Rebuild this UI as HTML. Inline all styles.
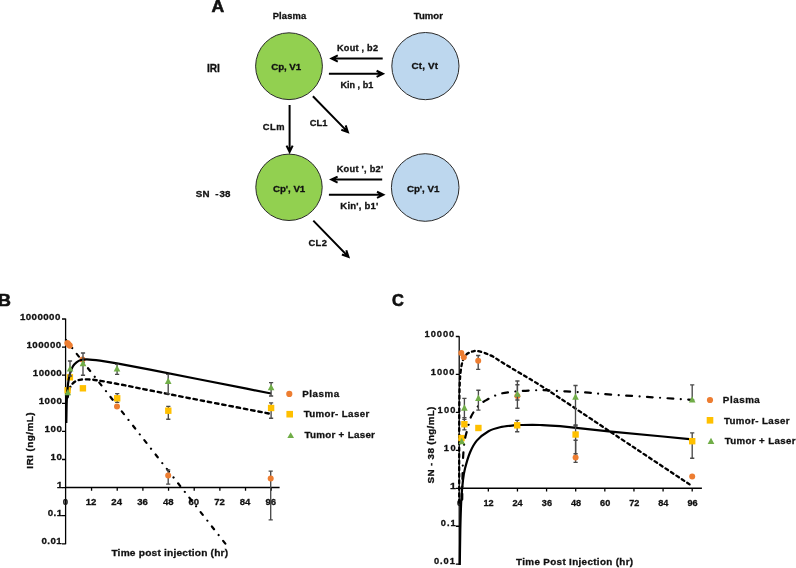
<!DOCTYPE html>
<html><head><meta charset="utf-8"><style>
html,body{margin:0;padding:0;background:#fff;width:796px;height:568px;overflow:hidden}
svg{position:absolute;left:0;top:0;display:block;will-change:transform;filter:blur(0.3px)}
text{font-family:"Liberation Sans",sans-serif;font-weight:bold;fill:#111;white-space:pre;stroke:#111;stroke-width:0.3px}
</style></head><body>
<svg width="796" height="568" viewBox="0 0 796 568">
<circle cx="289.0" cy="66.2" r="33.4" fill="#92D050" stroke="#2a2a2a" stroke-width="1.0"/>
<circle cx="425.4" cy="66.1" r="33.6" fill="#BDD7EE" stroke="#2a2a2a" stroke-width="1.0"/>
<circle cx="289.0" cy="187.3" r="33.2" fill="#92D050" stroke="#2a2a2a" stroke-width="1.0"/>
<circle cx="425.2" cy="187.5" r="33.8" fill="#BDD7EE" stroke="#2a2a2a" stroke-width="1.0"/>
<text transform="translate(211.56,11.70) scale(1.0167,1)" font-size="17.297" letter-spacing="0.000" style="stroke-width:0.6px">A</text>
<text transform="translate(272.67,18.80) scale(1.0235,1)" font-size="9.157" letter-spacing="0.145">Plasma</text>
<text transform="translate(413.70,18.80) scale(1.0099,1)" font-size="9.448" letter-spacing="0.070">Tumor</text>
<text transform="translate(271.30,69.80) scale(0.9854,1)" font-size="9.884" letter-spacing="-0.089">Cp, V1</text>
<text transform="translate(411.40,69.20) scale(1.0421,1)" font-size="9.448" letter-spacing="0.195">Ct, Vt</text>
<text transform="translate(273.00,191.50) scale(0.9874,1)" font-size="9.884" letter-spacing="-0.069">Cp', V1</text>
<text transform="translate(406.90,192.30) scale(0.9905,1)" font-size="9.884" letter-spacing="-0.052">Cp', V1</text>
<text transform="translate(207.12,71.60) scale(0.9719,1)" font-size="10.465" letter-spacing="-0.173">IRI</text>
<text transform="translate(195.82,197.30) scale(1.0191,1)" font-size="9.593" letter-spacing="0.088">SN  - 38</text>
<text transform="translate(336.99,50.60) scale(1.0513,1)" font-size="8.721" letter-spacing="0.222">Kout , b2</text>
<text transform="translate(340.39,87.70) scale(1.0066,1)" font-size="9.012" letter-spacing="0.029">Kin , b1</text>
<text transform="translate(336.68,171.80) scale(1.0617,1)" font-size="8.721" letter-spacing="0.235">Kout ', b2'</text>
<text transform="translate(340.36,209.20) scale(1.0446,1)" font-size="9.157" letter-spacing="0.180">Kin', b1'</text>
<text transform="translate(262.72,130.10) scale(1.0536,1)" font-size="8.866" letter-spacing="0.478">CLm</text>
<text transform="translate(309.72,126.30) scale(1.0160,1)" font-size="9.157" letter-spacing="0.131">CL1</text>
<text transform="translate(308.52,245.70) scale(1.0401,1)" font-size="9.012" letter-spacing="0.314">CL2</text>
<path d="M382.70,58.50L332.10,58.50M337.79,61.57L331.50,58.50L337.79,55.43" fill="none" stroke="#000" stroke-width="2.0" stroke-linejoin="miter" stroke-miterlimit="6"/>
<path d="M328.90,73.80L382.30,73.80M376.61,70.73L382.90,73.80L376.61,76.87" fill="none" stroke="#000" stroke-width="2.0" stroke-linejoin="miter" stroke-miterlimit="6"/>
<path d="M382.20,179.60L331.90,179.60M337.59,182.67L331.30,179.60L337.59,176.53" fill="none" stroke="#000" stroke-width="2.0" stroke-linejoin="miter" stroke-miterlimit="6"/>
<path d="M328.90,194.80L382.70,194.80M377.01,191.73L383.30,194.80L377.01,197.87" fill="none" stroke="#000" stroke-width="2.0" stroke-linejoin="miter" stroke-miterlimit="6"/>
<path d="M289.60,105.00L289.60,151.30M292.67,145.61L289.60,151.90L286.53,145.61" fill="none" stroke="#000" stroke-width="2.0" stroke-linejoin="miter" stroke-miterlimit="6"/>
<path d="M312.90,96.30L347.47,131.64M345.69,125.43L347.89,132.07L341.30,129.72" fill="none" stroke="#000" stroke-width="2.0" stroke-linejoin="miter" stroke-miterlimit="6"/>
<path d="M313.30,220.60L348.08,256.44M346.32,250.21L348.49,256.87L341.91,254.49" fill="none" stroke="#000" stroke-width="2.0" stroke-linejoin="miter" stroke-miterlimit="6"/>
<path d="M65.6,318.6V544.2" stroke="#000" stroke-width="1.3" fill="none"/><path d="M65.6,487.6H279.6" stroke="#000" stroke-width="1.5" fill="none"/>
<path d="M62.0,319.00H65.6M62.0,347.10H65.6M62.0,375.20H65.6M62.0,403.30H65.6M62.0,431.40H65.6M62.0,459.50H65.6M62.0,487.60H65.6M62.0,515.70H65.6M62.0,543.80H65.6M91.56,487.6V490.8M117.22,487.6V490.8M142.89,487.6V490.8M168.55,487.6V490.8M194.21,487.6V490.8M219.87,487.6V490.8M245.53,487.6V490.8M271.20,487.6V490.8" stroke="#000" stroke-width="1.3" fill="none"/>
<text transform="translate(19.89,319.50) scale(1.0000,1)" font-size="9.714" letter-spacing="0.449">1000000</text>
<text transform="translate(26.48,347.60) scale(1.0000,1)" font-size="9.714" letter-spacing="0.459">100000</text>
<text transform="translate(32.78,375.70) scale(1.0000,1)" font-size="9.714" letter-spacing="0.476">10000</text>
<text transform="translate(38.69,403.80) scale(1.0000,1)" font-size="9.714" letter-spacing="0.502">1000</text>
<text transform="translate(44.48,431.90) scale(1.0000,1)" font-size="9.714" letter-spacing="0.556">100</text>
<text transform="translate(50.38,460.00) scale(1.0000,1)" font-size="9.714" letter-spacing="0.716">10</text>
<text transform="translate(56.70,488.10) scale(1.0732,1)" font-size="9.714" letter-spacing="0.000">1</text>
<text transform="translate(47.73,516.20) scale(1.0000,1)" font-size="9.714" letter-spacing="0.470">0.1</text>
<text transform="translate(41.43,544.30) scale(1.0000,1)" font-size="9.714" letter-spacing="0.445">0.01</text>
<text transform="translate(62.84,505.40) scale(1.0000,1)" font-size="9.571" letter-spacing="0.000">0</text>
<text transform="translate(85.73,505.40) scale(1.0000,1)" font-size="9.571" letter-spacing="0.000">12</text>
<text transform="translate(111.36,505.40) scale(1.0000,1)" font-size="9.571" letter-spacing="0.000">24</text>
<text transform="translate(137.23,505.40) scale(1.0000,1)" font-size="9.571" letter-spacing="0.000">36</text>
<text transform="translate(162.90,505.40) scale(1.0000,1)" font-size="9.571" letter-spacing="0.000">48</text>
<text transform="translate(188.51,505.40) scale(1.0000,1)" font-size="9.571" letter-spacing="0.000">60</text>
<text transform="translate(214.14,505.40) scale(1.0000,1)" font-size="9.571" letter-spacing="0.000">72</text>
<text transform="translate(239.68,505.40) scale(1.0000,1)" font-size="9.571" letter-spacing="0.000">84</text>
<text transform="translate(265.48,505.40) scale(1.0000,1)" font-size="9.571" letter-spacing="0.000">96</text>
<text transform="translate(-1.90,305.80) scale(1.0977,1)" font-size="16.279" letter-spacing="0.000" style="stroke-width:0.6px">B</text>
<text transform="translate(111.39,556.40) scale(1.0440,1)" font-size="9.738" letter-spacing="0.196">Time post injection (hr)</text>
<text transform="translate(33.20,468.67) rotate(-90) scale(1.0884,1)" font-size="9.157" letter-spacing="0.380">IRI (ng/mL)</text>
<path d="M459.2,336.2V565.0" stroke="#000" stroke-width="1.25" fill="none"/><path d="M459.2,488.3H701.9" stroke="#000" stroke-width="1.6" fill="none"/>
<path d="M455.8,336.50H459.3M455.8,374.45H459.3M455.8,412.40H459.3M455.8,450.35H459.3M455.8,488.30H459.3M455.8,526.25H459.3M455.8,564.20H459.3M488.33,488.3V491.5M517.45,488.3V491.5M546.58,488.3V491.5M575.70,488.3V491.5M604.83,488.3V491.5M633.95,488.3V491.5M663.08,488.3V491.5M692.20,488.3V491.5" stroke="#000" stroke-width="1.3" fill="none"/>
<text transform="translate(424.52,336.70) scale(1.0000,1)" font-size="9.286" letter-spacing="0.986">10000</text>
<text transform="translate(430.71,374.65) scale(1.0000,1)" font-size="9.286" letter-spacing="1.041">1000</text>
<text transform="translate(437.59,412.60) scale(1.0000,1)" font-size="9.286" letter-spacing="1.152">100</text>
<text transform="translate(443.87,450.55) scale(1.0000,1)" font-size="9.286" letter-spacing="1.484">10</text>
<text transform="translate(449.92,488.50) scale(1.1586,1)" font-size="9.286" letter-spacing="0.000">1</text>
<text transform="translate(440.81,526.45) scale(1.0000,1)" font-size="9.286" letter-spacing="0.973">0.1</text>
<text transform="translate(434.02,564.40) scale(1.0000,1)" font-size="9.286" letter-spacing="0.922">0.01</text>
<text transform="translate(456.96,505.90) scale(1.0000,1)" font-size="9.143" letter-spacing="0.000">0</text>
<text transform="translate(483.44,505.90) scale(1.0000,1)" font-size="9.143" letter-spacing="0.000">12</text>
<text transform="translate(512.53,505.90) scale(1.0000,1)" font-size="9.143" letter-spacing="0.000">24</text>
<text transform="translate(541.85,505.90) scale(1.0000,1)" font-size="9.143" letter-spacing="0.000">36</text>
<text transform="translate(570.99,505.90) scale(1.0000,1)" font-size="9.143" letter-spacing="0.000">48</text>
<text transform="translate(600.06,505.90) scale(1.0000,1)" font-size="9.143" letter-spacing="0.000">60</text>
<text transform="translate(629.15,505.90) scale(1.0000,1)" font-size="9.143" letter-spacing="0.000">72</text>
<text transform="translate(658.17,505.90) scale(1.0000,1)" font-size="9.143" letter-spacing="0.000">84</text>
<text transform="translate(687.42,505.90) scale(1.0000,1)" font-size="9.143" letter-spacing="0.000">96</text>
<text transform="translate(392.08,305.85) scale(1.0164,1)" font-size="16.172" letter-spacing="0.000" style="stroke-width:0.6px">C</text>
<text transform="translate(516.09,565.40) scale(1.0771,1)" font-size="9.157" letter-spacing="0.314">Time Post Injection (hr)</text>
<text transform="translate(433.90,483.48) rotate(-90) scale(1.0728,1)" font-size="9.157" letter-spacing="0.322">SN - 38 (ng/mL)</text>
<path d="M225.30,543.60C172.17,475.73 119.03,407.87 65.90,340.00" fill="none" stroke="#000" stroke-width="2.2" stroke-linecap="round" stroke-dasharray="3.5 7.38 0.01 7.38"/>
<path d="M168.20,469.90V484.10M166.10,469.90H170.30M166.10,484.10H170.30" stroke="#4a4a4a" stroke-width="1.35" fill="none"/>
<path d="M270.70,471.10V519.90M268.60,471.10H272.80M268.60,519.90H272.80" stroke="#4a4a4a" stroke-width="1.35" fill="none"/>
<circle cx="67.4" cy="343.1" r="3.1" fill="#ED7D31"/>
<circle cx="68.5" cy="344.3" r="3.1" fill="#ED7D31"/>
<circle cx="69.7" cy="345.6" r="3.1" fill="#ED7D31"/>
<circle cx="82.5" cy="359.6" r="3.0" fill="#ED7D31"/>
<circle cx="117.0" cy="406.4" r="3.0" fill="#ED7D31"/>
<circle cx="168.2" cy="475.5" r="3.0" fill="#ED7D31"/>
<circle cx="270.7" cy="478.5" r="3.0" fill="#ED7D31"/>
<path d="M67.50,398.00C68.17,395.00 68.75,391.28 69.50,389.00C70.25,386.72 70.90,385.63 72.00,384.30C73.10,382.97 74.58,381.78 76.10,381.00C77.62,380.22 79.08,379.87 81.10,379.60C83.12,379.33 85.62,379.30 88.20,379.40C90.78,379.50 91.12,379.33 96.60,380.20C102.08,381.07 112.20,382.90 121.10,384.60C130.00,386.30 136.85,387.80 150.00,390.40C163.15,393.00 179.92,396.30 200.00,400.20C220.08,404.10 247.00,409.27 270.50,413.80" fill="none" stroke="#000" stroke-width="2.4" stroke-linecap="round" stroke-dasharray="3.4 3.9" stroke-dashoffset="-0.75"/>
<path d="M117.20,393.60V402.40M115.10,393.60H119.30M115.10,402.40H119.30" stroke="#4a4a4a" stroke-width="1.35" fill="none"/>
<path d="M168.30,406.30V419.20M166.20,406.30H170.40M166.20,419.20H170.40" stroke="#4a4a4a" stroke-width="1.35" fill="none"/>
<path d="M271.10,402.90V418.20M269.00,402.90H273.20M269.00,418.20H273.20" stroke="#4a4a4a" stroke-width="1.35" fill="none"/>
<rect x="64.40" y="387.10" width="6.4" height="6.4" fill="#FFC000"/>
<rect x="66.70" y="374.10" width="6.4" height="6.4" fill="#FFC000"/>
<rect x="79.70" y="385.10" width="6.4" height="6.4" fill="#FFC000"/>
<rect x="114.00" y="395.10" width="6.4" height="6.4" fill="#FFC000"/>
<rect x="165.10" y="407.50" width="6.4" height="6.4" fill="#FFC000"/>
<rect x="267.90" y="404.80" width="6.4" height="6.4" fill="#FFC000"/>
<path d="M66.30,423.00C66.47,415.33 66.52,406.50 66.80,400.00C67.08,393.50 67.47,388.42 68.00,384.00C68.53,379.58 69.20,376.42 70.00,373.50C70.80,370.58 71.72,368.37 72.80,366.50C73.88,364.63 75.12,363.38 76.50,362.30C77.88,361.22 79.35,360.48 81.10,360.00C82.85,359.52 83.85,359.28 87.00,359.40C90.15,359.52 95.02,360.03 100.00,360.70C104.98,361.37 108.57,361.92 116.90,363.40C125.23,364.88 136.15,366.92 150.00,369.60C163.85,372.28 179.82,375.52 200.00,379.50C220.18,383.48 247.40,388.83 271.10,393.50" fill="none" stroke="#000" stroke-width="2.2" stroke-linecap="butt"/>
<path d="M70.00,361.00V376.00M67.90,361.00H72.10M67.90,376.00H72.10" stroke="#4a4a4a" stroke-width="1.35" fill="none"/>
<path d="M83.00,353.00V375.20M80.90,353.00H85.10M80.90,375.20H85.10" stroke="#4a4a4a" stroke-width="1.35" fill="none"/>
<path d="M117.10,364.40V374.30M115.00,364.40H119.20M115.00,374.30H119.20" stroke="#4a4a4a" stroke-width="1.35" fill="none"/>
<path d="M168.20,374.30V393.80M166.10,374.30H170.30M166.10,393.80H170.30" stroke="#4a4a4a" stroke-width="1.35" fill="none"/>
<path d="M271.10,382.60V396.00M269.00,382.60H273.20M269.00,396.00H273.20" stroke="#4a4a4a" stroke-width="1.35" fill="none"/>
<path d="M67.80,388.90L71.10,395.30L64.50,395.30Z" fill="#70AD47"/>
<path d="M70.10,365.20L73.40,371.60L66.80,371.60Z" fill="#70AD47"/>
<path d="M83.00,359.80L86.30,366.20L79.70,366.20Z" fill="#70AD47"/>
<path d="M117.00,365.10L120.30,371.50L113.70,371.50Z" fill="#70AD47"/>
<path d="M168.20,377.60L171.50,384.00L164.90,384.00Z" fill="#70AD47"/>
<path d="M271.10,383.90L274.40,390.30L267.80,390.30Z" fill="#70AD47"/>
<path d="M459.20,505.00C459.20,486.67 459.18,466.67 459.20,450.00C459.22,433.33 459.22,415.83 459.30,405.00C459.38,394.17 459.50,390.33 459.70,385.00C459.90,379.67 460.12,376.58 460.50,373.00C460.88,369.42 461.32,366.25 462.00,363.50C462.68,360.75 463.52,358.25 464.60,356.50C465.68,354.75 467.18,353.83 468.50,353.00C469.82,352.17 471.03,351.85 472.50,351.50C473.97,351.15 475.22,350.63 477.30,350.90C479.38,351.17 482.38,352.15 485.00,353.10C487.62,354.05 490.08,355.02 493.00,356.60C495.92,358.18 498.30,360.02 502.50,362.60C506.70,365.18 510.90,367.67 518.20,372.10C525.50,376.53 531.23,379.45 546.30,389.20C561.37,398.95 584.27,414.43 608.60,430.60C632.93,446.77 664.40,467.67 692.30,486.20" fill="none" stroke="#000" stroke-width="2.3" stroke-linecap="round" stroke-dasharray="3.0 3.5" stroke-dashoffset="-2.2"/>
<path d="M478.20,355.50V369.30M476.10,355.50H480.30M476.10,369.30H480.30" stroke="#4a4a4a" stroke-width="1.35" fill="none"/>
<path d="M517.40,384.70V400.00M515.30,384.70H519.50M515.30,400.00H519.50" stroke="#4a4a4a" stroke-width="1.35" fill="none"/>
<path d="M575.60,440.20V462.40M573.50,440.20H577.70M573.50,462.40H577.70" stroke="#4a4a4a" stroke-width="1.35" fill="none"/>
<circle cx="461.3" cy="353.0" r="3.0" fill="#ED7D31"/>
<circle cx="463.8" cy="357.3" r="3.0" fill="#ED7D31"/>
<circle cx="478.2" cy="360.8" r="3.0" fill="#ED7D31"/>
<circle cx="517.4" cy="396.0" r="3.0" fill="#ED7D31"/>
<circle cx="575.6" cy="457.5" r="3.0" fill="#ED7D31"/>
<circle cx="692.2" cy="476.4" r="3.0" fill="#ED7D31"/>
<path d="M459.80,565.00C459.97,553.33 460.05,540.83 460.30,530.00C460.55,519.17 460.85,508.33 461.30,500.00C461.75,491.67 462.38,485.23 463.00,480.00C463.62,474.77 463.83,473.18 465.00,468.60C466.17,464.02 468.03,457.17 470.00,452.50C471.97,447.83 473.72,444.15 476.80,440.60C479.88,437.05 484.63,433.43 488.50,431.20C492.37,428.97 495.80,428.17 500.00,427.20C504.20,426.23 510.03,425.77 513.70,425.40C517.37,425.03 517.62,425.07 522.00,425.00C526.38,424.93 533.67,424.80 540.00,425.00C546.33,425.20 548.57,425.15 560.00,426.20C571.43,427.25 586.60,429.12 608.60,431.30C630.60,433.48 664.20,436.63 692.00,439.30" fill="none" stroke="#000" stroke-width="2.2" stroke-linecap="butt"/>
<path d="M464.40,417.60V429.80M462.30,417.60H466.50M462.30,429.80H466.50" stroke="#4a4a4a" stroke-width="1.35" fill="none"/>
<path d="M517.20,420.40V431.70M515.10,420.40H519.30M515.10,431.70H519.30" stroke="#4a4a4a" stroke-width="1.35" fill="none"/>
<path d="M575.60,425.00V453.70M573.50,425.00H577.70M573.50,453.70H577.70" stroke="#4a4a4a" stroke-width="1.35" fill="none"/>
<path d="M692.20,432.80V458.20M690.10,432.80H694.30M690.10,458.20H694.30" stroke="#4a4a4a" stroke-width="1.35" fill="none"/>
<rect x="458.30" y="434.90" width="6.4" height="6.4" fill="#FFC000"/>
<rect x="461.20" y="421.00" width="6.4" height="6.4" fill="#FFC000"/>
<rect x="475.20" y="424.80" width="6.4" height="6.4" fill="#FFC000"/>
<rect x="514.00" y="422.10" width="6.4" height="6.4" fill="#FFC000"/>
<rect x="572.40" y="431.30" width="6.4" height="6.4" fill="#FFC000"/>
<rect x="689.00" y="438.00" width="6.4" height="6.4" fill="#FFC000"/>
<path d="M462.20,500.00C462.27,494.00 462.28,488.33 462.40,482.00C462.52,475.67 462.70,467.33 462.90,462.00C463.10,456.67 463.32,453.50 463.60,450.00C463.88,446.50 464.20,443.58 464.60,441.00C465.00,438.42 465.33,437.18 466.00,434.50C466.67,431.82 467.78,427.82 468.60,424.90C469.42,421.98 470.02,419.20 470.90,417.00C471.78,414.80 472.73,413.47 473.90,411.70C475.07,409.93 476.58,407.87 477.90,406.40C479.22,404.93 480.63,403.82 481.80,402.90C482.97,401.98 483.07,401.95 484.90,400.90C486.73,399.85 490.12,397.82 492.80,396.60C495.48,395.38 498.03,394.37 501.00,393.60C503.97,392.83 507.27,392.43 510.60,392.00C513.93,391.57 517.38,391.27 521.00,391.00C524.62,390.73 528.55,390.53 532.30,390.40C536.05,390.27 537.88,390.03 543.50,390.20C549.12,390.37 558.48,390.98 566.00,391.40C573.52,391.82 581.55,392.20 588.60,392.70C595.65,393.20 598.12,393.67 608.30,394.40C618.48,395.13 635.75,396.20 649.70,397.10C663.65,398.00 677.90,398.90 692.00,399.80" fill="none" stroke="#000" stroke-width="2.2" stroke-linecap="round" stroke-dasharray="5.8 7.45 0.01 7.45" stroke-dashoffset="-0.4"/>
<path d="M464.40,398.30V419.30M462.30,398.30H466.50M462.30,419.30H466.50" stroke="#4a4a4a" stroke-width="1.35" fill="none"/>
<path d="M478.40,390.20V410.10M476.30,390.20H480.50M476.30,410.10H480.50" stroke="#4a4a4a" stroke-width="1.35" fill="none"/>
<path d="M517.40,381.00V408.20M515.30,381.00H519.50M515.30,408.20H519.50" stroke="#4a4a4a" stroke-width="1.35" fill="none"/>
<path d="M575.50,385.50V426.00M573.40,385.50H577.60M573.40,426.00H577.60" stroke="#4a4a4a" stroke-width="1.35" fill="none"/>
<path d="M692.20,384.80V400.00M690.10,384.80H694.30M690.10,400.00H694.30" stroke="#4a4a4a" stroke-width="1.35" fill="none"/>
<path d="M461.70,437.80L465.00,444.20L458.40,444.20Z" fill="#70AD47"/>
<path d="M464.40,404.30L467.70,410.70L461.10,410.70Z" fill="#70AD47"/>
<path d="M478.40,394.60L481.70,401.00L475.10,401.00Z" fill="#70AD47"/>
<path d="M517.40,390.40L520.70,396.80L514.10,396.80Z" fill="#70AD47"/>
<path d="M575.50,393.30L578.80,399.70L572.20,399.70Z" fill="#70AD47"/>
<path d="M692.20,396.20L695.50,402.60L688.90,402.60Z" fill="#70AD47"/>
<circle cx="289.3" cy="393.9" r="3.1" fill="#ED7D31"/>
<rect x="286.40" y="410.90" width="6.6" height="6.6" fill="#FFC000"/>
<path d="M290.70,432.30L294.05,438.10L287.35,438.10Z" fill="#70AD47"/>
<text transform="translate(302.35,396.60) scale(1.0835,1)" font-size="9.012" letter-spacing="0.478">Plasma</text>
<text transform="translate(303.69,417.00) scale(1.0760,1)" font-size="9.012" letter-spacing="0.364">Tumor- Laser</text>
<text transform="translate(304.39,437.80) scale(1.0549,1)" font-size="9.302" letter-spacing="0.275">Tumor + Laser</text>
<circle cx="710.0" cy="400.0" r="3.1" fill="#ED7D31"/>
<rect x="706.70" y="417.00" width="6.6" height="6.6" fill="#FFC000"/>
<path d="M711.00,437.80L714.35,444.00L707.65,444.00Z" fill="#70AD47"/>
<text transform="translate(722.84,402.90) scale(1.0868,1)" font-size="9.012" letter-spacing="0.495">Plasma</text>
<text transform="translate(723.89,423.60) scale(1.0769,1)" font-size="9.012" letter-spacing="0.368">Tumor- Laser</text>
<text transform="translate(724.69,444.00) scale(1.0744,1)" font-size="9.012" letter-spacing="0.355">Tumor + Laser</text>
</svg>
</body></html>
